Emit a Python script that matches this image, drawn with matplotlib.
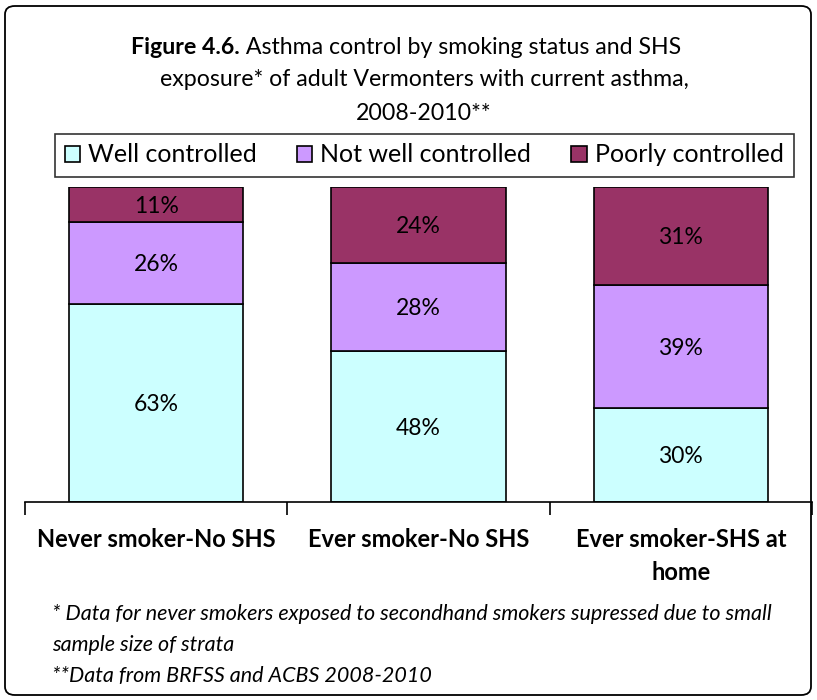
import matplotlib.pyplot as plt
from matplotlib.patches import FancyBboxPatch
import numpy as np

plt.rcParams['font.family'] = ['Lato', 'DejaVu Sans']

categories = ["Never smoker-No SHS", "Ever smoker-No SHS", "Ever smoker-SHS at\nhome"]
series_names = ["Well controlled", "Not well controlled", "Poorly controlled"]
well = [63, 48, 30]
not_well = [26, 28, 39]
poorly = [11, 24, 31]
colors = ["#CCFFFF", "#CC99FF", "#993366"]

W, H = 817, 700
fig = plt.figure(figsize=(W / 100, H / 100), dpi=100)

# outer rounded frame
frame = FancyBboxPatch((5 / W, 5 / H), 806 / W, 689 / H,
                       boxstyle="round,pad=0,rounding_size=0.012",
                       transform=fig.transFigure, fill=False,
                       edgecolor="black", linewidth=1.3)
fig.patches.append(frame)

ax = fig.add_axes([25 / W, 198 / H, 787 / W, 315 / H])
x = np.arange(len(categories))
bottom = np.zeros(len(categories))
for name, vals, col in zip(series_names, [well, not_well, poorly], colors):
    ax.bar(x, vals, bottom=bottom, width=0.665, color=col,
           edgecolor="black", linewidth=1.2, label=name)
    for xi, b, v in zip(x, bottom, vals):
        ax.text(xi, b + v / 2, f"{v}%", ha="center", va="center_baseline",
                fontsize=16.5)
    bottom += np.array(vals)

ax.set_xlim(-0.5, 2.5)
ax.set_ylim(0, 100)
for s in ["top", "right", "left"]:
    ax.spines[s].set_visible(False)
ax.spines["bottom"].set_linewidth(1.2)
ax.set_yticks([])
ax.set_xticks([-0.5, 0.5, 1.5, 2.5])
ax.set_xticklabels([])
ax.tick_params(axis="x", length=9, width=1.2, direction="out")
for xi, lab in zip(x, categories):
    ax.text(xi, -8.2, lab, ha="center", va="top", fontsize=17,
            fontweight="bold", linespacing=1.55, transform=ax.transData)

# title
fig.text(240 / W, 1 - 48 / H, "Figure 4.6.", ha="right", va="center",
         fontsize=16.7, fontweight="bold")
fig.text(240 / W, 1 - 48 / H, " Asthma control by smoking status and SHS",
         ha="left", va="center", fontsize=16.7)
fig.text(424 / W, 1 - 80 / H, "exposure* of adult Vermonters with current asthma,",
         ha="center", va="center", fontsize=16.7)
fig.text(424 / W, 1 - 113 / H, "2008-2010**", ha="center", va="center", fontsize=16.7)

leg = fig.legend(loc="center", bbox_to_anchor=(424 / W, 1 - 155 / H), ncol=3,
                 fontsize=18, frameon=True, fancybox=False, edgecolor="black",
                 handlelength=0.62, handleheight=0.62, handletextpad=0.32,
                 columnspacing=1.6, borderpad=0.4)
leg.get_frame().set_linewidth(1.2)

# footnotes
foot = ["* Data for never smokers exposed to secondhand smokers supressed due to small",
        "sample size of strata",
        "**Data from BRFSS and ACBS 2008-2010"]
for i, t in enumerate(foot):
    fig.text(52 / W, 1 - (614 + 31 * i) / H, t, ha="left", va="center",
             fontsize=15.5, style="italic")

fig.savefig("out.png", dpi=100)
